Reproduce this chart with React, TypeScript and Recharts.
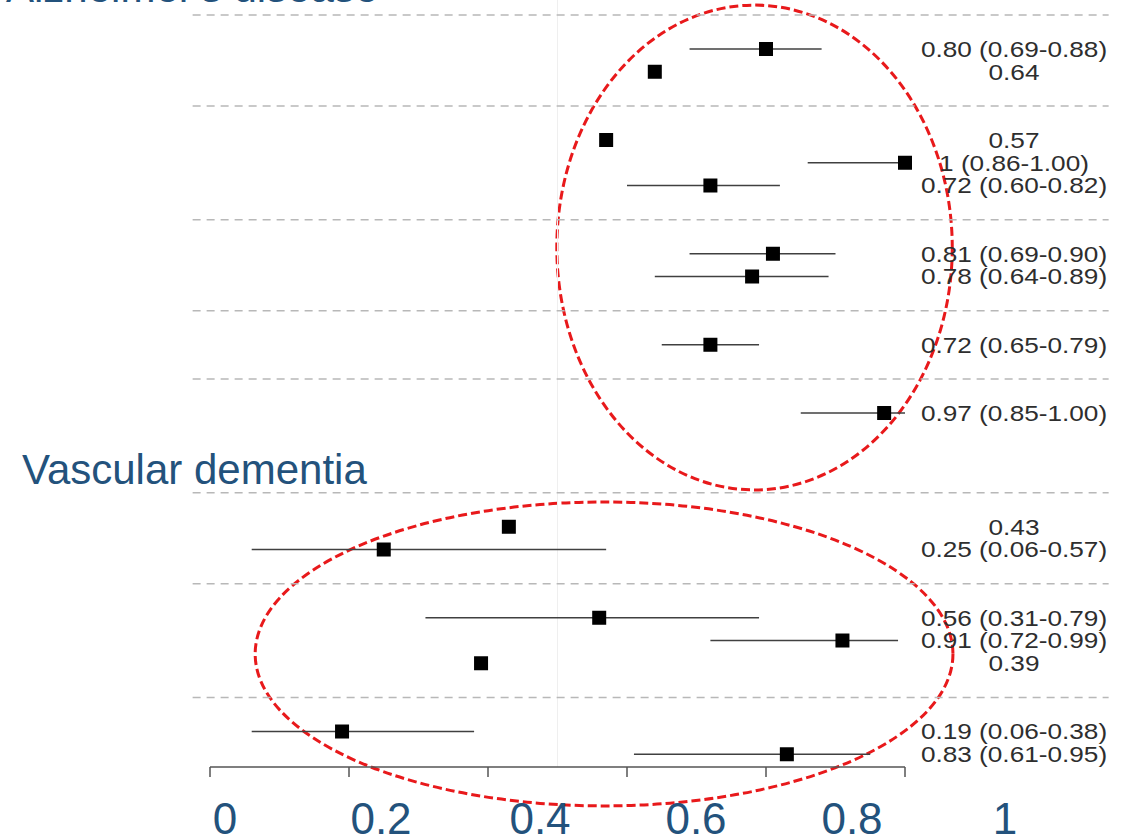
import React from 'react';
import {
  ScatterChart,
  Scatter,
  XAxis,
  YAxis,
  ErrorBar,
  ReferenceLine,
  ReferenceArea,
} from 'recharts';

// ---------- data ----------
const diseases = ["Alzheimer's disease", 'Vascular dementia'];
const subgroupSizes = [
  [2, 3, 2, 1, 1],
  [2, 3, 2],
];
const estimates = [0.8, 0.64, 0.57, 1.0, 0.72, 0.81, 0.78, 0.72, 0.97, 0.43, 0.25, 0.56, 0.91, 0.39, 0.19, 0.83];
const lowerCI = [0.69, null, null, 0.86, 0.6, 0.69, 0.64, 0.65, 0.85, null, 0.06, 0.31, 0.72, null, 0.06, 0.61];
const upperCI = [0.88, null, null, 1.0, 0.82, 0.9, 0.89, 0.79, 1.0, null, 0.57, 0.79, 0.99, null, 0.38, 0.95];
const valueLabels = [
  '0.80 (0.69-0.88)',
  '0.64',
  '0.57',
  '1 (0.86-1.00)',
  '0.72 (0.60-0.82)',
  '0.81 (0.69-0.90)',
  '0.78 (0.64-0.89)',
  '0.72 (0.65-0.79)',
  '0.97 (0.85-1.00)',
  '0.43',
  '0.25 (0.06-0.57)',
  '0.56 (0.31-0.79)',
  '0.91 (0.72-0.99)',
  '0.39',
  '0.19 (0.06-0.38)',
  '0.83 (0.61-0.95)',
];
const xTicks = [0, 0.2, 0.4, 0.6, 0.8, 1];
const xTickLabels = ['0', '0.2', '0.4', '0.6', '0.8', '1'];

// annotation ellipses (data-space extents)
const ellipseX1 = [0.499, 0.065];
const ellipseX2 = [1.068, 1.069];
const ellipseY1 = [-1.93, 19.91];
const ellipseY2 = [19.38, 33.27];

// ---------- layout constants (row units) ----------
const FIRST_SEP = -1.5;
const TITLE_GAP = 2;
const Y_TOP = -2.154;
const Y_BOTTOM = 31.56;
const SEP_X0 = -0.025;
const SEP_X1 = 1.293;

const FONT = '"Liberation Sans", Arial, Helvetica, sans-serif';
const BLUE = '#23527c';

// build rows from the group structure
type Row = { x: number; y: number; err: number[]; label: string };
const rows: Row[] = [];
const separators: number[] = [];
(() => {
  let pos = FIRST_SEP;
  let idx = 0;
  subgroupSizes.forEach((groups, d) => {
    if (d > 0) pos += TITLE_GAP;
    groups.forEach((n) => {
      separators.push(pos);
      pos += 1.5;
      for (let i = 0; i < n; i++) {
        const est = estimates[idx];
        const lo = lowerCI[idx];
        const hi = upperCI[idx];
        rows.push({
          x: est,
          y: pos,
          err: [lo == null ? 0 : est - lo, hi == null ? 0 : hi - est],
          label: valueLabels[idx],
        });
        idx++;
        pos += 1;
      }
      pos += 0.5;
    });
  });
})();

const labelByRow = new Map<number, string>(rows.map((r) => [r.y, r.label]));
const rowTicks = rows.map((r) => r.y);

const XTick = (props: any) => {
  const { x, y, payload } = props;
  const i = xTicks.indexOf(payload.value);
  const lx = x + 15 + 85 * payload.value + (payload.value > 0.3 && payload.value < 0.9 ? 3 : 0);
  return (
    <text x={lx} y={y + 55} textAnchor="middle" fontSize={44} fill={BLUE} fontFamily={FONT}>
      {xTickLabels[i] ?? String(payload.value)}
    </text>
  );
};

const RowLabel = (props: any) => {
  const { x, y, payload } = props;
  const txt = labelByRow.get(payload.value) ?? '';
  return (
    <g transform={`translate(${x + 101},${y}) scale(1.19,1)`}>
      <text x={0} y={0} dy="0.36em" textAnchor="middle" fontSize={22} fill="#2e2e2e" fontFamily={FONT}>
        {txt}
      </text>
    </g>
  );
};

const SquareShape = (props: any) => {
  const { cx, cy } = props;
  return <rect x={cx - 7} y={cy - 7} width={14} height={14} fill="#000" />;
};

const EllipseShape = (props: any) => {
  const { x, y, width, height } = props;
  return (
    <ellipse
      cx={x + width / 2}
      cy={y + height / 2}
      rx={Math.abs(width) / 2}
      ry={Math.abs(height) / 2}
      fill="none"
      stroke="#e8191b"
      strokeWidth={3}
      strokeDasharray="9 4"
    />
  );
};

export default function App() {
  return (
    <div
      style={{
        position: 'absolute',
        left: 0,
        top: 0,
        width: 1132,
        height: 836,
        background: '#fff',
        overflow: 'hidden',
      }}
    >
      <ScatterChart width={1132} height={836} margin={{ top: 0, right: 0, bottom: 0, left: 210 }}>
        <XAxis
          type="number"
          dataKey="x"
          domain={[0, 1]}
          ticks={xTicks}
          interval={0}
          height={69}
          axisLine={{ stroke: '#555', strokeWidth: 1.5 }}
          tickLine={{ stroke: '#555', strokeWidth: 1.5 }}
          tickSize={10}
          tick={<XTick />}
        />
        <YAxis
          type="number"
          dataKey="y"
          orientation="right"
          reversed
          domain={[Y_TOP, Y_BOTTOM]}
          allowDataOverflow
          ticks={rowTicks}
          interval={0}
          width={227}
          axisLine={false}
          tickLine={false}
          tick={<RowLabel />}
        />
        <ReferenceLine x={0.5} stroke="#efefef" strokeWidth={1} />
        {separators.map((s, i) => (
          <ReferenceLine
            key={'sep' + i}
            segment={[
              { x: SEP_X0, y: s },
              { x: SEP_X1, y: s },
            ]}
            ifOverflow="visible"
            stroke="#b8b8b8"
            strokeWidth={1.5}
            strokeDasharray="8 6"
          />
        ))}
        <Scatter data={rows} shape={<SquareShape />} isAnimationActive={false}>
          <ErrorBar dataKey="err" direction="x" width={0} stroke="#404040" strokeWidth={1.6} />
        </Scatter>
        {ellipseX1.map((_, i) => (
          <ReferenceArea
            key={'ell' + i}
            x1={ellipseX1[i]}
            x2={ellipseX2[i]}
            y1={ellipseY1[i]}
            y2={ellipseY2[i]}
            ifOverflow="visible"
            shape={<EllipseShape />}
          />
        ))}
      </ScatterChart>
      <svg
        width={1132}
        height={836}
        style={{ position: 'absolute', left: 0, top: 0, pointerEvents: 'none' }}
      >
        <text x={6} y={2} fontSize={42} fill={BLUE} fontFamily={FONT}>
          {diseases[0]}
        </text>
        <text x={22} y={484} fontSize={42} fill={BLUE} fontFamily={FONT}>
          {diseases[1]}
        </text>
      </svg>
    </div>
  );
}
